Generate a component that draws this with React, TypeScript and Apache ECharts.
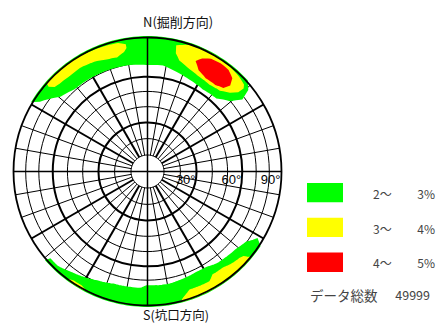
import React, { useEffect, useRef } from "react";
import * as echarts from "echarts";

// ---- grid of the equal-area (Schmidt) net ----
const DIP_CIRCLES = [10, 20, 30, 40, 50, 60, 70, 80, 90];
const MAJOR_DIPS = [30, 60, 90];
const AZIMUTH_LINES = [0, 10, 20, 30, 40, 50, 60, 70, 80, 90, 100, 110, 120, 130, 140, 150, 160, 170,
  180, 190, 200, 210, 220, 230, 240, 250, 260, 270, 280, 290, 300, 310, 320, 330, 340, 350];
const MAJOR_AZIMUTHS = [0, 30, 60, 90, 120, 150, 180, 210, 240, 270, 300, 330];
const AXIS_AZIMUTHS = [0, 90, 180, 270];
const DIP_LABEL_VALUES = [30, 60, 90];
const DIP_LABELS = ["30°", "60°", "90°"];

const NORTH_LABEL = "N(掘削方向)";
const SOUTH_LABEL = "S(坑口方向)";

// ---- density contours, points as [azimuth°, dip°] ----
const GREEN_NORTH: [number, number][] = [
  [302, 90], [303.5, 86], [311, 75.5], [318.5, 72], [330.5, 71.5], [342, 71], [351, 70.5],
  [359.5, 69.5], [8.5, 70], [16, 67.5], [24.5, 65.5], [34, 64], [43, 65], [49, 70.5],
  [52, 78], [50.5, 85.5], [47.5, 90], [0, 90],
];
const GREEN_SOUTH: [number, number][] = [
  [228.2, 90], [227.8, 88], [223.6, 88], [217.3, 84.7], [211, 82.2], [204.7, 79.6],
  [196.8, 77.5], [188.5, 77.1], [183.6, 77.1], [180.4, 74.9], [175.4, 75.1], [168.8, 75.3],
  [161.7, 74.2], [154.2, 73.3], [148.5, 73.6], [143.5, 75.7], [137.6, 76.7], [131.4, 77.7],
  [125.9, 80.4], [122.1, 85.7], [123.8, 90], [180, 90],
];
const YELLOW_NW: [number, number][] = [
  [311.5, 90], [320, 90], [328, 89.5], [335, 88.5], [342, 88], [347, 87.5], [350, 85.5],
  [350, 83], [348.7, 80.5], [345, 77.7], [340, 78.5], [335.5, 80.4], [327.2, 82],
  [321.2, 81.6], [315, 82.5], [312.5, 83.5], [311, 87],
];
const YELLOW_NE: [number, number][] = [
  [13.2, 85.7], [17.8, 88.6], [23, 90], [29, 90], [34, 89.5], [39.5, 88.5], [44, 87.5],
  [47.8, 86], [48.8, 84], [48.5, 79.2], [46.1, 74.4], [41.7, 70.3], [35.5, 69.1],
  [27.6, 70.2], [21.2, 72.5], [16.2, 75.6], [13.8, 80.1],
];
const YELLOW_SE: [number, number][] = [
  [165, 90], [164.3, 88.3], [160.3, 83.3], [153.8, 83.8], [150.4, 83.9], [147.6, 80.5],
  [141.9, 80.8], [136.9, 83.1], [133.2, 84.1], [131.6, 85.3], [130, 90], [148, 90],
];
const YELLOW_SW: [number, number][] = [
  [216, 90], [214, 88.5], [210, 88.5], [208, 90],
];
const RED_NE: [number, number][] = [
  [24, 79], [26, 82.5], [29.5, 85.5], [34, 86.5], [38.5, 86], [42, 83], [43.5, 78],
  [42, 73.5], [38, 71.5], [32, 71.5], [27, 74],
];

// ---- legend ----
const LEVEL_COLORS = ["#00ff00", "#ffff00", "#ff0000"];
const LEVEL_FROM = ["2～", "3～", "4～"];
const LEVEL_TO = ["3%", "4%", "5%"];
const TOTAL_LABEL = "データ総数";
const TOTAL_COUNT = 49999;

const CONTOURS: { pts: [number, number][]; level: number }[] = [
  { pts: GREEN_NORTH, level: 0 },
  { pts: GREEN_SOUTH, level: 0 },
  { pts: YELLOW_NW, level: 1 },
  { pts: YELLOW_NE, level: 1 },
  { pts: YELLOW_SE, level: 1 },
  { pts: YELLOW_SW, level: 1 },
  { pts: RED_NE, level: 2 },
];

const JP = '"Noto Sans CJK JP", "Noto Sans", sans-serif';
const NARROW = '"Liberation Sans Narrow", "Liberation Sans", sans-serif';

// equal-area projection: dip angle -> normalised radius
const proj = (dip: number) => Math.SQRT2 * Math.sin((dip * Math.PI) / 360);
const normAz = (a: number) => ((a % 360) + 360) % 360;

function densify(pts: [number, number][]) {
  const out: [number, number][] = [];
  for (let i = 0; i < pts.length; i++) {
    const [a0, d0] = pts[i];
    const [a1, d1] = pts[(i + 1) % pts.length];
    let da = a1 - a0;
    if (da > 180) da -= 360;
    if (da < -180) da += 360;
    const n = Math.max(1, Math.ceil(Math.abs(da) / 1.5));
    for (let k = 0; k < n; k++) {
      const t = k / n;
      out.push([a0 + da * t, d0 + (d1 - d0) * t]);
    }
  }
  return out;
}

export default function App() {
  const ref = useRef<HTMLDivElement>(null);
  useEffect(() => {
    const chart = echarts.init(ref.current!, null, { renderer: "svg" });

    const renderGrid = (_p: any, api: any) => {
      const c = api.coord([0, 0]);
      const pt = (dip: number, az: number) => api.coord([proj(dip), az]);
      const children: any[] = [];
      DIP_CIRCLES.forEach((dip) => {
        if (dip === 90) return;
        const r = pt(dip, 90)[0] - c[0];
        children.push({
          type: "circle",
          shape: { cx: c[0], cy: c[1], r },
          style: { fill: "none", stroke: "#000", lineWidth: MAJOR_DIPS.includes(dip) ? 2 : 1 },
        });
      });
      AZIMUTH_LINES.forEach((az) => {
        if (AXIS_AZIMUTHS.includes(az)) return;
        const a = pt(DIP_CIRCLES[0], az);
        const b = pt(90, az);
        children.push({
          type: "line",
          shape: { x1: a[0], y1: a[1], x2: b[0], y2: b[1] },
          style: { stroke: "#000", lineWidth: MAJOR_AZIMUTHS.includes(az) ? 2 : 1 },
        });
      });
      return { type: "group", children };
    };

    const renderContour = (params: any, api: any) => {
      const c = CONTOURS[params.dataIndex];
      const color = LEVEL_COLORS[c.level];
      const points = densify(c.pts).map(([az, dip]) => api.coord([proj(dip), normAz(az)]));
      return {
        type: "polygon",
        shape: { points },
        style: { fill: color, stroke: color, lineWidth: c.level === 0 ? 3 : 1.5 },
      };
    };

    const renderOverlay = (_p: any, api: any) => {
      const c = api.coord([0, 0]);
      const pt = (dip: number, az: number) => api.coord([proj(dip), az]);
      const rimR = pt(90, 90)[0] - c[0];
      const children: any[] = [
        {
          type: "circle",
          shape: { cx: c[0], cy: c[1], r: rimR },
          style: { fill: "none", stroke: "#000", lineWidth: 1.8 },
        },
      ];
      AXIS_AZIMUTHS.forEach((az) => {
        const b = pt(90, az);
        children.push({
          type: "line",
          shape: { x1: c[0], y1: c[1], x2: b[0], y2: b[1] },
          style: { stroke: "#000", lineWidth: 1.5 },
        });
      });
      DIP_LABEL_VALUES.forEach((dip, i) => {
        const p = pt(dip, 90);
        children.push({
          type: "text",
          x: p[0] - 1,
          y: c[1] + 1,
          style: {
            text: DIP_LABELS[i],
            fontSize: 13,
            fontFamily: NARROW,
            fill: "#000",
            align: "right",
            textAlign: "right",
            verticalAlign: "top",
            textVerticalAlign: "top",
          },
        });
      });
      return { type: "group", children };
    };

    const legend: any[] = [];
    LEVEL_COLORS.forEach((color, i) => {
      const top = 183 + i * 34.8;
      legend.push({
        type: "rect",
        shape: { x: 307, y: top, width: 36, height: 19.3 },
        style: { fill: color },
      });
      legend.push({
        type: "text",
        x: 373,
        y: top + 10.2,
        style: {
          text: LEVEL_FROM[i], fontSize: 12, fontFamily: JP, fill: "#444",
          align: "left", textAlign: "left", verticalAlign: "middle", textVerticalAlign: "middle",
        },
      });
      legend.push({
        type: "text",
        x: 435,
        y: top + 10.2,
        style: {
          text: LEVEL_TO[i], fontSize: 12, fontFamily: JP, fill: "#444",
          align: "right", textAlign: "right", verticalAlign: "middle", textVerticalAlign: "middle",
        },
      });
    });
    legend.push({
      type: "text",
      x: 310,
      y: 294.5,
      style: {
        text: TOTAL_LABEL, fontSize: 13.5, fontFamily: JP, fill: "#444",
        align: "left", textAlign: "left", verticalAlign: "middle", textVerticalAlign: "middle",
      },
    });
    legend.push({
      type: "text",
      x: 430,
      y: 294.5,
      style: {
        text: String(TOTAL_COUNT), fontSize: 12.5, fontFamily: JP, fill: "#444",
        align: "right", textAlign: "right", verticalAlign: "middle", textVerticalAlign: "middle",
      },
    });

    chart.setOption({
      animation: false,
      backgroundColor: "#ffffff",
      polar: { center: [147.5, 171.5], radius: 134 },
      angleAxis: { type: "value", min: 0, max: 360, startAngle: 90, clockwise: true, show: false },
      radiusAxis: { type: "value", min: 0, max: 1, show: false },
      graphic: [
        {
          type: "text",
          x: 143,
          y: 15,
          style: {
            text: NORTH_LABEL, fontSize: 13, fontFamily: JP, fill: "#111",
            align: "left", textAlign: "left", verticalAlign: "top", textVerticalAlign: "top",
          },
        },
        {
          type: "text",
          x: 143,
          y: 314.5,
          style: {
            text: SOUTH_LABEL, fontSize: 12.5, fontFamily: JP, fill: "#111",
            align: "left", textAlign: "left", verticalAlign: "middle", textVerticalAlign: "middle",
          },
        },
        ...legend,
      ],
      series: [
        {
          type: "custom",
          coordinateSystem: "polar",
          silent: true,
          z: 1,
          data: [[0, 0]],
          renderItem: renderGrid,
        },
        {
          type: "custom",
          coordinateSystem: "polar",
          silent: true,
          z: 2,
          data: CONTOURS.map(() => [0, 0]),
          renderItem: renderContour,
        },
        {
          type: "custom",
          coordinateSystem: "polar",
          silent: true,
          z: 3,
          data: [[0, 0]],
          renderItem: renderOverlay,
        },
      ],
    });
    return () => chart.dispose();
  }, []);
  return <div ref={ref} style={{ position: "absolute", left: 0, top: 0, width: 436, height: 324 }} />;
}
